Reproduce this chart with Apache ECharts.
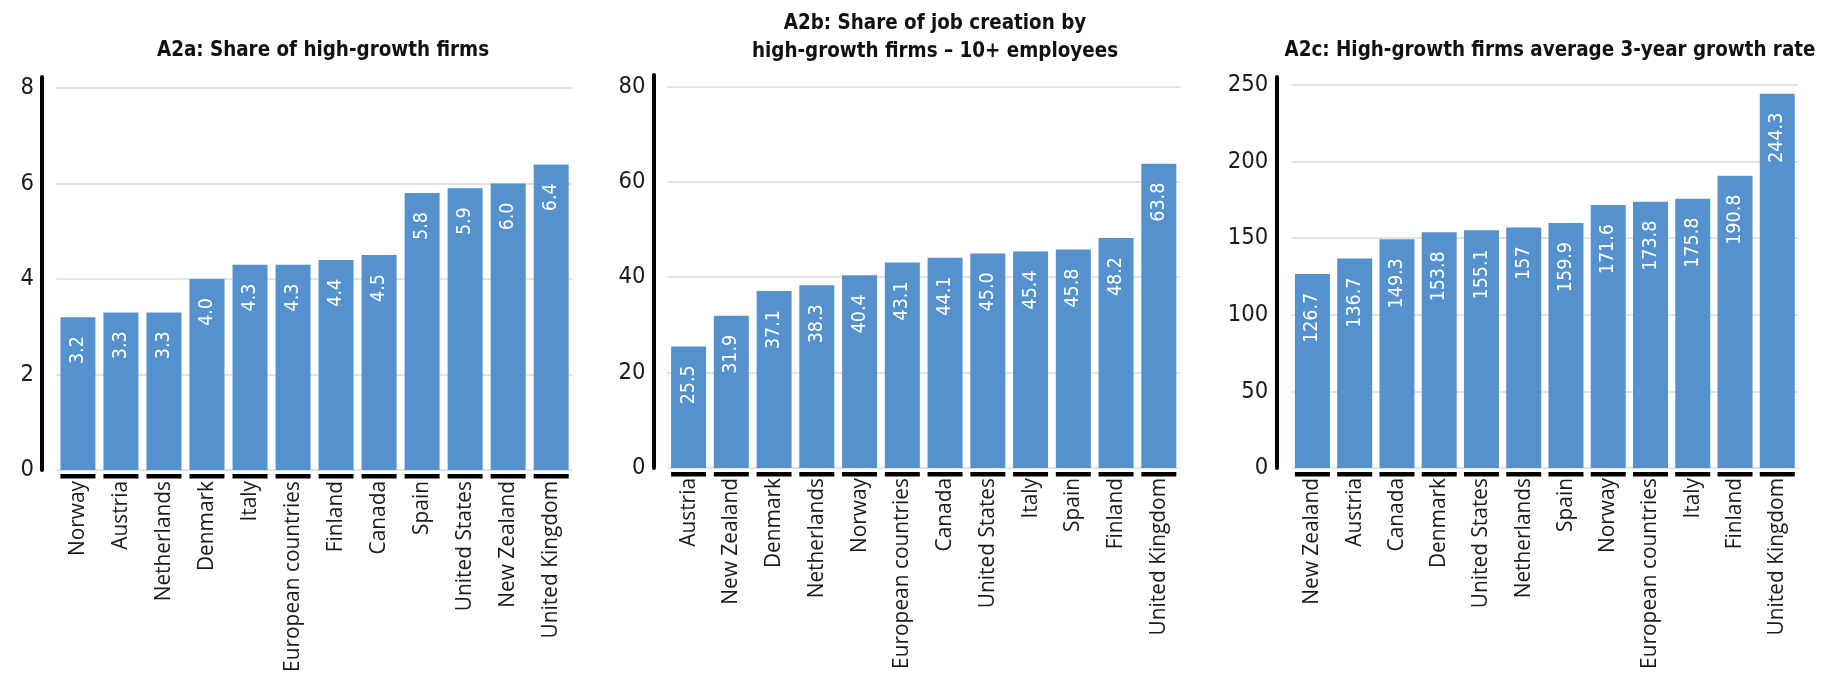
<!DOCTYPE html>
<html>
<head>
<meta charset="utf-8">
<script src="https://cdn.jsdelivr.net/npm/echarts@6/dist/echarts.min.js"></script>
<style>
html,body{margin:0;padding:0;background:#fff;}
#chart{width:1829px;height:680px;}
</style>
</head>
<body>
<div id="chart"></div>
<script>
// ---- Data ----
const titleA = 'A2a: Share of high-growth firms';
const titleB = 'A2b: Share of job creation by\nhigh-growth firms \u2013 10+ employees';
const titleC = 'A2c: High-growth firms average 3-year growth rate';

const categoriesA = ['Norway','Austria','Netherlands','Denmark','Italy','European countries','Finland','Canada','Spain','United States','New Zealand','United Kingdom'];
const valuesA = [3.2, 3.3, 3.3, 4.0, 4.3, 4.3, 4.4, 4.5, 5.8, 5.9, 6.0, 6.4];

const categoriesB = ['Austria','New Zealand','Denmark','Netherlands','Norway','European countries','Canada','United States','Italy','Spain','Finland','United Kingdom'];
const valuesB = [25.5, 31.9, 37.1, 38.3, 40.4, 43.1, 44.1, 45.0, 45.4, 45.8, 48.2, 63.8];

const categoriesC = ['New Zealand','Austria','Canada','Denmark','United States','Netherlands','Spain','Norway','European countries','Italy','Finland','United Kingdom'];
const valuesC = [126.7, 136.7, 149.3, 153.8, 155.1, 157, 159.9, 171.6, 173.8, 175.8, 190.8, 244.3];

const yTicksA = {interval: 2, max: 8.23};
const yTicksB = {interval: 20, max: 82.4};
const yTicksC = {interval: 50, max: 255.2};

// ---- Fonts: calibrate sizes to the reference text widths ----
const COND = "'DejaVu Sans Condensed','DejaVu Sans',sans-serif";
const SANS = "'Open Sans','Noto Sans',sans-serif";
const ctx = document.createElement('canvas').getContext('2d');
function fit(text, family, weight, target) {
  ctx.font = weight + ' 100px ' + family;
  return 100 * target / ctx.measureText(text).width;
}
const titleSize = (fit(titleA, COND, 'bold', 334) + fit(titleC, COND, 'bold', 532) +
                   fit('high-growth firms \u2013 10+ employees', COND, 'bold', 364)) / 3;
const tickSize = fit('250', COND, 'normal', 40.5);
const barLabelSize = fit('63.8', COND, 'normal', 39);
const xLabelSize = fit('European countries', SANS, 'normal', 191);

// ---- Layout ----
const BLUE = '#5591CD';

const panels = [
  {title: titleA, cats: categoriesA, vals: valuesA, ticks: yTicksA, left: 56.4, width: 516.3, top: 77, height: 393, segTop: 474, offset: 14.4, titleX: 318, titleTop: 32, fmt: v => v.toFixed(1), labelMargin: 11},
  {title: titleB, cats: categoriesB, vals: valuesB, ticks: yTicksB, left: 667.2, width: 513, top: 75, height: 393, segTop: 472, offset: 13.8, titleX: 930, titleTop: 5, fmt: v => v.toFixed(1), labelMargin: 10},
  {title: titleC, cats: categoriesC, vals: valuesC, ticks: yTicksC, left: 1291.3, width: 507.1, top: 77, height: 391, segTop: 472, offset: 15, titleX: 1545, titleTop: 32, fmt: v => String(v), labelMargin: 10}
];

const option = {
  backgroundColor: '#ffffff',
  animation: false,
  title: [], grid: [], xAxis: [], yAxis: [], series: []
};

panels.forEach((p, i) => {
  option.title.push({
    text: p.title,
    left: p.titleX,
    top: p.titleTop,
    textAlign: 'center',
    textStyle: {fontFamily: COND, fontSize: titleSize, fontWeight: 'bold', color: '#111', lineHeight: 28}
  });
  option.grid.push({left: p.left, width: p.width, top: p.top, height: p.height, containLabel: false});
  option.grid.push({left: p.left, width: p.width, top: p.segTop, height: 4.4, containLabel: false});

  const gMain = i * 2, gSeg = i * 2 + 1;
  option.xAxis.push({
    type: 'category', gridIndex: gMain, data: p.cats,
    axisLine: {show: false}, axisTick: {show: false},
    axisLabel: {interval: 0, rotate: 90, margin: p.labelMargin, fontFamily: SANS, fontSize: xLabelSize, color: '#1a1a1a'}
  });
  option.xAxis.push({
    type: 'category', gridIndex: gSeg, data: p.cats,
    axisLine: {show: false}, axisTick: {show: false}, axisLabel: {show: false}
  });
  option.yAxis.push({
    type: 'value', gridIndex: gMain, min: 0, max: p.ticks.max, interval: p.ticks.interval,
    offset: p.offset,
    axisLine: {show: true, onZero: false, lineStyle: {color: '#000', width: 4}},
    axisTick: {show: false},
    axisLabel: {margin: 8, fontFamily: COND, fontSize: tickSize, color: '#1a1a1a', showMaxLabel: false},
    splitLine: {show: true, showMaxLine: false, lineStyle: {color: '#d9d9d9', width: 1.5}}
  });
  option.yAxis.push({type: 'value', gridIndex: gSeg, min: 0, max: 1, show: false});

  option.series.push({
    type: 'bar', xAxisIndex: gMain, yAxisIndex: gMain, data: p.vals,
    barWidth: 35,
    itemStyle: {color: BLUE},
    label: {
      show: true, position: 'insideTop', rotate: 90, align: 'right', verticalAlign: 'middle',
      distance: 19, color: '#ffffff', fontFamily: COND, fontSize: barLabelSize,
      formatter: (d) => p.fmt(d.value)
    },
    silent: true
  });
  option.series.push({
    type: 'bar', xAxisIndex: gSeg, yAxisIndex: gSeg, data: p.cats.map(() => 1),
    barWidth: 35, itemStyle: {color: '#000'}, silent: true
  });
});

const chart = echarts.init(document.getElementById('chart'), null, {renderer: 'canvas'});
chart.setOption(option);
</script>
</body>
</html>
